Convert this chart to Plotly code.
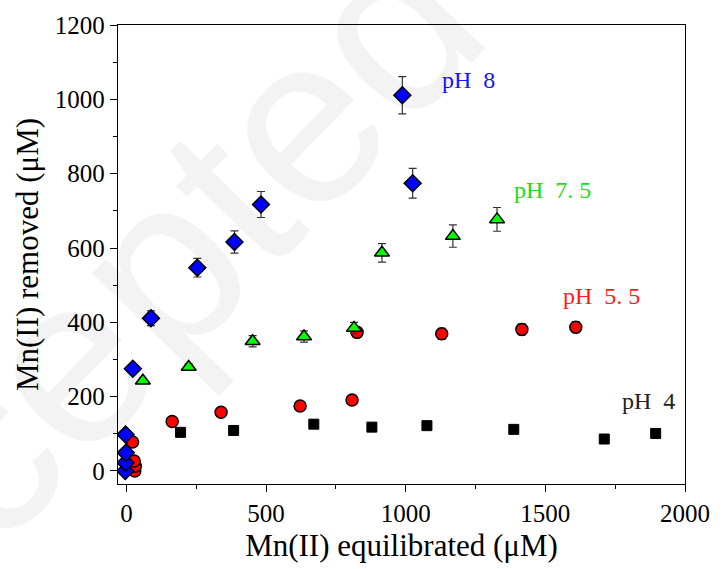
import plotly.graph_objects as go

# Mn(II) sorption data at four pH values (x: equilibrium Mn, y: Mn removed, err: std. dev.)
ph8_x = [-4, -3, -2, -3, 23, 88, 254, 387, 482, 988, 1025]
ph8_y = [0, 22, 49, 98, 275, 411, 547, 616, 717, 1011, 774]
ph8_err = [5, 5, 8, 8, 10, 20, 25, 30, 35, 50, 40]

ph75_x = [59, 223, 452, 636, 815, 915, 1169, 1327]
ph75_y = [243, 280, 349, 362, 385, 587, 632, 677]
ph75_err = [6, 8, 15, 15, 15, 25, 30, 32]

ph55_x = [30, 32, 28, 22, 164, 339, 622, 808, 826, 1129, 1416, 1609]
ph55_y = [0, 13, 27, 78, 133, 158, 175, 191, 373, 369, 381, 387]
ph55_err = [5, 5, 6, 8, 8, 8, 8, 8, 12, 15, 15, 15]

ph4_x = [194, 384, 671, 879, 1076, 1387, 1711, 1895]
ph4_y = [104, 109, 126, 118, 122, 112, 86, 101]

labels = ["pH  8", "pH  7. 5", "pH  5. 5", "pH  4"]
label_x = [1224, 1526, 1702, 1868]
label_y = [1053, 755, 472, 187]
label_colors = ["#1414ff", "#19dd19", "#ff1a1a", "#222222"]

serif = "Liberation Serif"

def err(vals):
    return dict(type="data", array=vals, visible=True, color="#333333",
                thickness=1.2, width=4)

fig = go.Figure()

fig.add_trace(go.Scatter(
    x=ph4_x, y=ph4_y, mode="markers", name="pH 4",
    marker=dict(symbol="square", size=10, color="black",
                line=dict(color="black", width=1))))

fig.add_trace(go.Scatter(
    x=ph55_x, y=ph55_y, mode="markers", name="pH 5.5", error_y=err(ph55_err),
    marker=dict(symbol="circle", size=12, color="#ff0000",
                line=dict(color="black", width=1.5))))

fig.add_trace(go.Scatter(
    x=ph75_x, y=ph75_y, mode="markers", name="pH 7.5", error_y=err(ph75_err),
    marker=dict(symbol="triangle-up", size=13, color="#00ff00",
                line=dict(color="black", width=1.5))))

fig.add_trace(go.Scatter(
    x=ph8_x, y=ph8_y, mode="markers", name="pH 8", error_y=err(ph8_err),
    marker=dict(symbol="diamond", size=13, color="#0000ff",
                line=dict(color="black", width=1.5))))

for t, x, y, c in zip(labels, label_x, label_y, label_colors):
    fig.add_annotation(x=x, y=y, text=t, showarrow=False,
                       font=dict(family=serif, size=24, color=c))

# faint diagonal watermark behind the plot
fig.add_shape(type="rect", xref="paper", yref="paper",
              x0=-0.22, x1=0.06, y0=0.21, y1=0.49, layer="below",
              line=dict(width=0), fillcolor="rgba(0,0,0,0)",
              label=dict(text="Accepted", textangle=-46,
                         textposition="middle center",
                         font=dict(family="Liberation Sans", size=240,
                                   color="#f3f3f3")))

axis_common = dict(
    showline=True, linecolor="black", linewidth=1.3, mirror=True,
    ticks="outside", ticklen=7, tickwidth=1.2, tickcolor="black",
    showgrid=False, zeroline=False,
    tickfont=dict(family=serif, size=25, color="black"),
)

fig.update_xaxes(
    range=[-30, 2000], tickvals=[0, 500, 1000, 1500, 2000],
    minor=dict(ticks="outside", ticklen=4, tickwidth=1, tickcolor="black",
               tickvals=[250, 750, 1250, 1750]),
    title=dict(text="Mn(II) equilibrated (μM)", standoff=8,
               font=dict(family=serif, size=31, color="black")),
    **axis_common)

fig.update_yaxes(
    range=[-35, 1200], tickvals=[0, 200, 400, 600, 800, 1000, 1200],
    minor=dict(ticks="outside", ticklen=4, tickwidth=1, tickcolor="black",
               tickvals=[100, 300, 500, 700, 900, 1100]),
    title=dict(text="Mn(II) removed (μM)", standoff=6,
               font=dict(family=serif, size=31, color="black")),
    **axis_common)

fig.update_layout(
    width=722, height=569,
    margin=dict(l=118, r=28, t=25, b=81),
    paper_bgcolor="white", plot_bgcolor="white",
    showlegend=False,
)

fig.write_html("out.html")
